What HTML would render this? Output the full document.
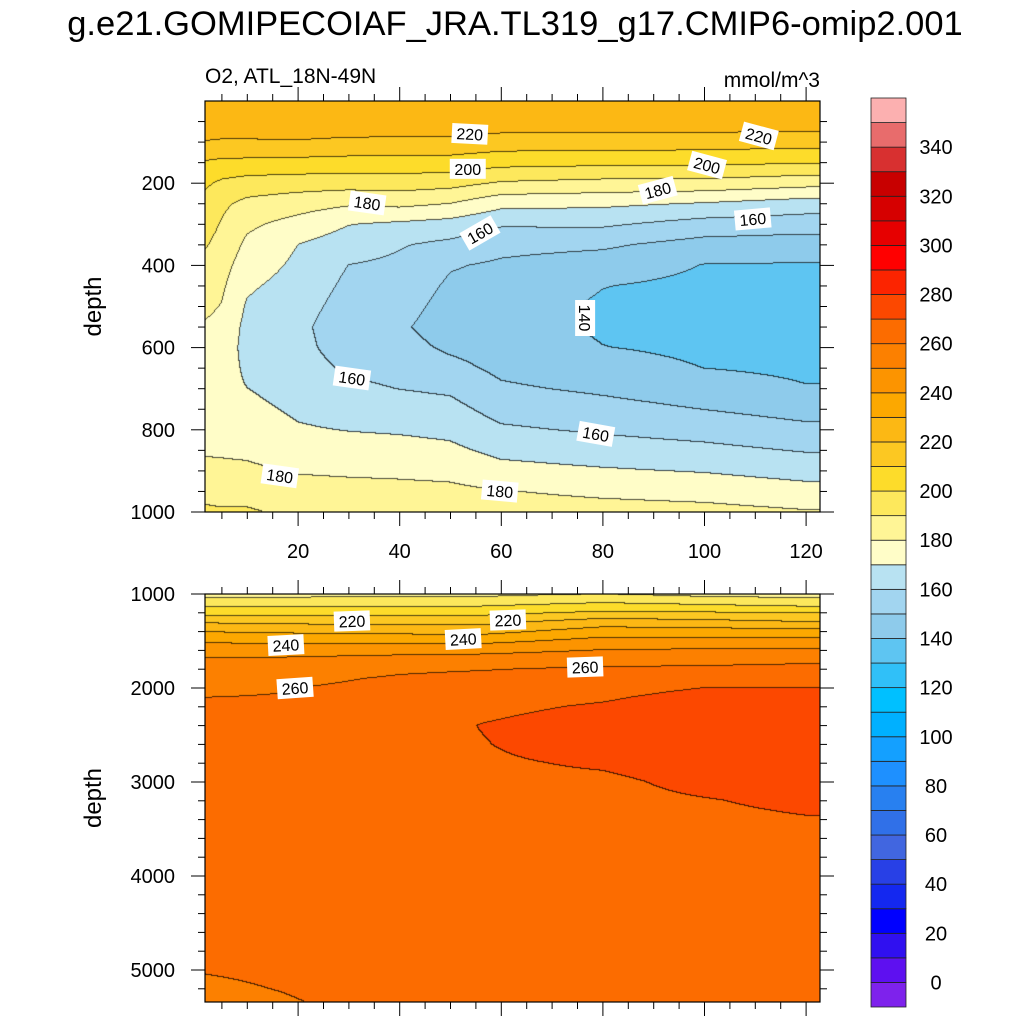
<!DOCTYPE html>
<html><head><meta charset="utf-8">
<style>
html,body{margin:0;padding:0;background:#fff;}
#wrap{position:relative;width:1024px;height:1024px;overflow:hidden;font-family:"Liberation Sans",sans-serif;}
canvas{position:absolute;}
svg{position:absolute;left:0;top:0;}
</style></head>
<body>
<div id="wrap">
<canvas id="cTop" width="615" height="411" style="left:205px;top:101px"></canvas>
<canvas id="cBot" width="615" height="408" style="left:205px;top:594px"></canvas>
<svg id="svg" width="1024" height="1024"></svg>
</div>
<script>
// ---------- data ----------
const levelColors = ["#7e22ec","#5e10f0","#3010f0","#0000ff","#1428f0","#2840e6","#4166e0","#3070e8","#2880f0","#1e90ff","#14a0ff","#00b0ff","#00c0ff","#30c0f8","#5ec5f2","#8ecbeb","#a2d5f0","#b8e2f2","#fffdc8","#fff596","#fde85c","#fddc2a","#fcc822","#fcb814","#fca800","#fc9400","#fc8000","#fc6c00","#fc4800","#fc2400","#ff0000","#e60000","#d60000","#c80000","#d83030","#e86c6c","#fcb0b0"];
const levelTicks = [0,20,40,60,80,100,120,140,160,180,200,220,240,260,280,300,320,340];

const topTimes = [0,5,10,20,30,40,50,60,80,100,120,125];
const topDepths = [0,50,100,150,200,250,300,350,400,450,500,550,600,650,700,750,800,850,900,950,1000];
const topT0 = [226,227,220,209.8,203.6,198.7,195.6,192.6,189.5,186.2,182.9,179.9,178.6,177.3,176,177.1,178.2,179.3,182,187.1,192];
const topT5 = [226,227,218.9,208,198.3,191.9,189.4,187.2,184,181.7,179.6,177.6,176.3,174.7,173,174.9,176.9,178.8,181.9,186.5,191];
const topT10 = [226,227,218.9,207.7,195.9,187.6,182,177.9,174.7,171.4,169,167.2,166.5,168.3,170.1,172.8,175.5,178.2,181.7,186.6,191];
const topT20 = [226,227,219.3,207.1,194.9,184.4,176.5,170,168.2,166.4,164.5,162.7,163.1,164.4,165.6,168.3,171,175,179.2,183.6,188];
const topT30 = [226,227,218.1,206.5,194.6,181.4,170.4,165,159.9,157.8,155.6,153.4,155.2,158.5,162,165.8,169.6,174.1,178.6,182.9,187];
const topT40 = [226,227,217.8,206.5,194.9,182.6,168.5,160.8,158,155.8,153.6,151.4,153.5,156.7,159.8,164.3,168.8,173.5,178.1,182.6,187];
const topT50 = [226,227,217.7,206,193.7,180,166.5,157.7,150.8,148.5,146.7,145.5,148.3,152.8,158.3,163,167.4,172.1,177.4,182,186];
const topT60 = [226,226,215.6,203.5,189.1,173.2,161.3,152.8,148.6,146.8,145,144,145.6,147.8,151.4,156.3,161.4,167.3,173.2,180.4,185];
const topT80 = [226,226,215.6,202.6,187.2,172.2,161.6,151.6,145.5,140.3,138.5,138.7,140.2,144.1,148.3,153.2,158.6,164.6,171,177.8,184];
const topT100 = [226,226,215,202.5,186.9,169.5,156.3,146.4,139.7,137.7,135.8,136.1,138,139.9,144.7,149.8,156,162.5,169.3,176.3,183];
const topT120 = [226,226,214.2,200.8,183.8,165.6,154.8,145.2,139.3,137.4,135.5,134.2,136.3,138.2,140.5,146.2,152.3,159.2,166.2,173.4,180.7];
const topT125 = topT120;
const topCols = [topT0,topT5,topT10,topT20,topT30,topT40,topT50,topT60,topT80,topT100,topT120,topT125];

const botTimes = [0,20,40,56,80,100,120,125];
const botDepths = [1000,1100,1200,1300,1400,1500,1600,1700,1800,1900,2000,2100,2200,2400,2600,2800,3000,3200,3400,3600,4000,4500,5000,5200,5400];
const botT0 = [186,195.4,206,218.8,229.6,238.2,245.3,250.7,253,255.3,257.6,259.9,260.6,262,263.3,264.6,266,265.8,265.6,265.4,265,262.7,260.3,258.5,256];
const botT20 = [186.5,195.7,205.8,217.5,228,237.6,246,251.4,254.7,258,259.9,260.5,261.1,262.3,263.5,264.8,266,266,265.8,265.5,265,263.5,261.5,260.6,259.5];
const botT40 = [187,196.4,206,217,227,237,246.4,253.2,258.4,261,262.5,263.5,264.5,266,267,267.5,267.5,267.3,267,266.7,266,265,263.5,263,262];
const botT56 = [187,196.6,206.8,216.9,226.4,236.7,247,253.9,259.4,262.5,264.5,266,267.8,270.2,269.6,268.8,268.3,268,267.7,267.4,267,266,265,264.5,264];
const botT80 = [190,200.4,211.4,224.7,234.6,243.1,250.2,255.8,261.3,264.2,266.5,268.8,271,274,274,271,268.5,268,267.8,267.5,267,266.5,266,265.5,265];
const botT100 = [186.5,198,210.5,222.8,234,243,251,257,261.5,264.5,270,273,275,276,275.5,274,272,269.6,268.5,268,267.5,267,266.5,266,266];
const botT120 = [186,194.9,209.7,220.2,233.6,243,251.6,257.9,262.5,266.2,270,272.5,274.5,276,276,275,273.5,271.5,269.6,269,268.5,268,267.5,267,267];
const botT125 = botT120;
const botCols = [botT0,botT20,botT40,botT56,botT80,botT100,botT120,botT125];

const topLabelText = ["220","200","180","160","160","180","180","140","160","180","200","220","160"];
const topLabelT = [53.8,53.4,33.6,55.8,30.6,16.4,59.7,76.5,78.6,90.8,100.5,110.7,109.5];
const topLabelD = [80,165,248,321,674,912,949,528,810,217,156,85,287];
const topLabelRot = [3,0,8,-30,8,8,5,90,10,-15,15,15,-5];
const botLabelText = ["220","220","240","240","260","260"];
const botLabelT = [30.6,61.3,17.6,52.5,76.5,19.4];
const botLabelD = [1287,1277,1543,1479,1777,2000];
const botLabelRot = [-2,-2,-3,-3,-2,-4];

const xTicks = [20,40,60,80,100,120];

// ---------- axes ----------
const X0=205, X1=820;
function xPix(t){return 196.5 + 5.08*t;}
function tFromPix(px){return (px-196.5)/5.08;}
function yTop(d){return 101 + d*0.411;}
function dTopFromPix(py){return (py-101)/0.411;}
function yBot(d){return 594 + (d-1000)*0.094;}
function dBotFromPix(py){return 1000 + (py-594)/0.094;}

function interp1(arr, v){
  let i=0; while(i<arr.length-2 && v>arr[i+1]) i++;
  let f=(v-arr[i])/(arr[i+1]-arr[i]); f=Math.max(0,Math.min(1,f));
  return [i,f];
}
function sample(times,depths,cols,t,d){
  const [i,fx]=interp1(times,t), [j,fy]=interp1(depths,d);
  const a=cols[i][j], b=cols[i+1][j], c=cols[i][j+1], e=cols[i+1][j+1];
  return (a*(1-fx)+b*fx)*(1-fy)+(c*(1-fx)+e*fx)*fy;
}
function lvl(v){let k=Math.floor(v/10)+1; return Math.max(0,Math.min(levelColors.length-1,k));}
function hex(h){return [parseInt(h.substr(1,2),16),parseInt(h.substr(3,2),16),parseInt(h.substr(5,2),16)];}
const rgb = levelColors.map(hex);

function drawField(cid, left, top, times, depths, cols, dFromPix){
  const cv=document.getElementById(cid), ctx=cv.getContext('2d');
  const W=cv.width,H=cv.height, img=ctx.createImageData(W,H);
  const L=new Int16Array(W*H);
  for(let y=0;y<H;y++){const d=dFromPix(top+y+0.5);
    for(let x=0;x<W;x++){L[y*W+x]=lvl(sample(times,depths,cols,tFromPix(left+x+0.5),d));}}
  for(let y=0;y<H;y++)for(let x=0;x<W;x++){
    const k=L[y*W+x]; let c=rgb[k];
    const edge=(x<W-1&&L[y*W+x+1]!==k)||(y<H-1&&L[(y+1)*W+x]!==k);
    const p=(y*W+x)*4;
    if(edge){img.data[p]=c[0]*0.3;img.data[p+1]=c[1]*0.3;img.data[p+2]=c[2]*0.3;}
    else{img.data[p]=c[0];img.data[p+1]=c[1];img.data[p+2]=c[2];}
    img.data[p+3]=255;}
  ctx.putImageData(img,0,0);
}
drawField('cTop',205,101,topTimes,topDepths,topCols,dTopFromPix);
drawField('cBot',205,594,botTimes,botDepths,botCols,dBotFromPix);

// ---------- svg ----------
const NS="http://www.w3.org/2000/svg", svg=document.getElementById('svg');
function el(tag,attrs,txt){const e=document.createElementNS(NS,tag);for(const k in attrs)e.setAttribute(k,attrs[k]);if(txt!==undefined)e.textContent=txt;svg.appendChild(e);return e;}

let t;
t=el('text',{x:515,y:35,'text-anchor':'middle','font-size':'34.5'},'g.e21.GOMIPECOIAF_JRA.TL319_g17.CMIP6-omip2.001');


t=el('text',{x:205,y:83,'font-size':'21'},'O2, ATL_18N-49N');


t=el('text',{x:820,y:87,'text-anchor':'end','font-size':'21'},'mmol/m^3');



function panel(name, yT, yB, tickDepthsMaj, tickDepthsMin, yFn, showX){
  const g=el('rect',{x:X0,y:yT,width:X1-X0,height:yB-yT,fill:'none',stroke:'#000','stroke-width':1.2});
  
  
  for(let tt=5;tt<=120;tt+=5){
    const px=xPix(tt), maj=(tt%20===0), len=maj?14:7;
    const a=el('line',{x1:px,y1:yT,x2:px,y2:yT-len,stroke:'#000','stroke-width':1});
    
    
    const b=el('line',{x1:px,y1:yB,x2:px,y2:yB+len,stroke:'#000','stroke-width':1});
    
    
  }
  tickDepthsMin.forEach(d=>{const py=yFn(d);
    const a=el('line',{x1:X0,y1:py,x2:X0-7,y2:py,stroke:'#000','stroke-width':1});
    
    
    const b=el('line',{x1:X1,y1:py,x2:X1+7,y2:py,stroke:'#000','stroke-width':1});
    
    });
  tickDepthsMaj.forEach(d=>{const py=yFn(d);
    const a=el('line',{x1:X0,y1:py,x2:X0-14,y2:py,stroke:'#000','stroke-width':1});
    
    
    const b=el('line',{x1:X1,y1:py,x2:X1+14,y2:py,stroke:'#000','stroke-width':1});
    
    
    const l=el('text',{x:175,y:py+7,'text-anchor':'end','font-size':'20'},String(d));
    
    });
  const yl=el('text',{x:0,y:0,'text-anchor':'middle','font-size':'24',transform:'translate(101,'+((yT+yB)/2)+') rotate(-90)'},'depth');
  
  
  if(showX){xTicks.forEach(v=>{const l=el('text',{x:xPix(v),y:yB+46,'text-anchor':'middle','font-size':'20'},String(v));
    
    });}
}
const topMaj=[200,400,600,800,1000], topMin=[];
for(let d=50;d<1000;d+=50) if(d%200!==0) topMin.push(d);
panel('upper-panel',101,512,topMaj,topMin,yTop,true);
const botMaj=[1000,2000,3000,4000,5000], botMin=[];
for(let d=1200;d<5400;d+=200) if(d%1000!==0) botMin.push(d);
panel('lower-panel',594,1002,botMaj,botMin,yBot,false);

function clabels(texts,ts,ds,rots,yFn,name){
  texts.forEach((s,i)=>{
    const px=xPix(ts[i]), py=yFn(ds[i]);
    const g=document.createElementNS(NS,'g');
    g.setAttribute('transform','translate('+px+','+py+') rotate('+rots[i]+')');
    
    
    const r=document.createElementNS(NS,'rect');
    r.setAttribute('x',-18);r.setAttribute('y',-10);r.setAttribute('width',36);r.setAttribute('height',20);r.setAttribute('fill','#fff');
    g.appendChild(r);
    const tx=document.createElementNS(NS,'text');
    tx.setAttribute('x',0);tx.setAttribute('y',6);tx.setAttribute('text-anchor','middle');tx.setAttribute('font-size','16');
    tx.textContent=s; g.appendChild(tx);
    svg.appendChild(g);
  });
}
clabels(topLabelText,topLabelT,topLabelD,topLabelRot,yTop,'upper-contour-label');
clabels(botLabelText,botLabelT,botLabelD,botLabelRot,yBot,'lower-contour-label');

// colorbar
const CB_X=871, CB_W=35, CB_TOP=98, CB_BOT=1007, n=levelColors.length, bh=(CB_BOT-CB_TOP)/n;
levelColors.forEach((c,i)=>{
  const y=CB_BOT-(i+1)*bh;
  const r=el('rect',{x:CB_X,y:y,width:CB_W,height:bh,fill:c,stroke:'#222','stroke-width':0.8});
  
  
});
levelTicks.forEach(v=>{
  const y=CB_BOT-(v/10+1)*bh;
  const l=el('text',{x:936,y:y+7,'text-anchor':'middle','font-size':'20'},String(v));
  
  
});
</script>
</body></html>
